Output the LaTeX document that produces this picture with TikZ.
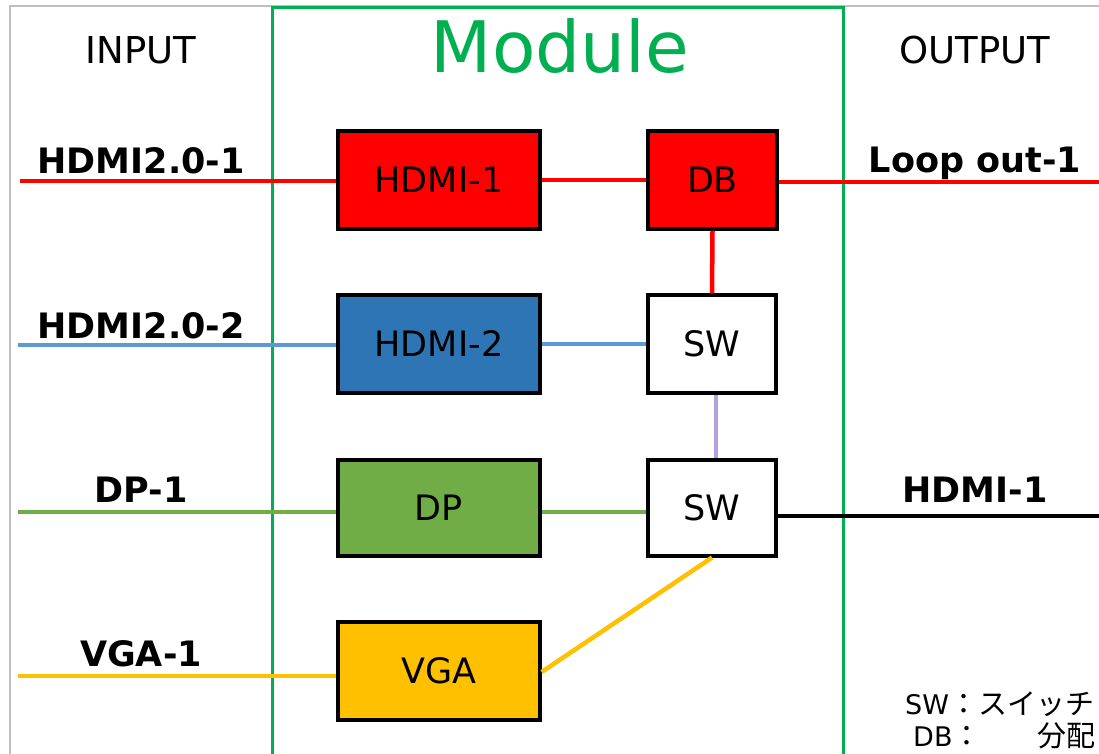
\documentclass[tikz,border=0pt]{standalone}
\usepackage{fontspec}
\setmainfont{DejaVu Sans}
\newfontfamily\cjk{Noto Sans CJK JP}
\definecolor{cgreen}{HTML}{00B050}
\definecolor{cframe}{HTML}{BFBFBF}
\definecolor{cred}{HTML}{FF0000}
\definecolor{cblue}{HTML}{2E75B6}
\definecolor{lblue}{HTML}{5B9BD5}
\definecolor{cdp}{HTML}{70AD47}
\definecolor{cyel}{HTML}{FFC000}
\definecolor{cpur}{HTML}{B4A0DC}
\tikzset{
  blk/.style={draw=black, line width=3.2pt, minimum width=202pt, minimum height=98pt, inner sep=0pt, font=\fontsize{35}{40}\selectfont},
  sblk/.style={blk, minimum width=128pt},
  lab/.style={anchor=base, font=\fontsize{35}{40}\selectfont\bfseries, inner sep=0pt},
  head/.style={anchor=base, font=\fontsize{37}{42}\selectfont, inner sep=0pt},
  wire/.style={line width=4.5pt}
}
\begin{document}
\begin{tikzpicture}[x=1pt,y=-1pt]
\useasboundingbox (0,0) rectangle (1099,753);
\fill[white] (0,0) rectangle (1099,753);
\clip (0,0) rectangle (1099,753);
% frames
\draw[cframe, line width=2pt] (10,6) rectangle (1130,790);
\draw[cgreen, line width=3pt] (272,7) rectangle (843,800);
% headings
\node[head] (tin) at (141,63) {INPUT};
\node[head] (tout) at (975,63) {OUTPUT};
\node[anchor=base, inner sep=0pt, text=cgreen, font=\fontsize{71}{80}\selectfont] (tmod) at (560,72) {Module};
% labels
\node[lab] (l1) at (141,173) {HDMI2.0-1};
\node[lab] (l2) at (141,338) {HDMI2.0-2};
\node[lab] (l3) at (141,502) {DP-1};
\node[lab] (l4) at (141,666) {VGA-1};
\node[lab] (l5) at (975,172) {Loop out-1};
\node[lab] (l6) at (975,502) {HDMI-1};
% blocks
\node[blk, fill=cred] (h1) at (439,180) {HDMI-1};
\node[sblk, fill=cred, minimum width=129pt] (db) at (712.5,180) {DB};
\node[blk, fill=cblue] (h2) at (439,344) {HDMI-2};
\node[sblk, fill=white] (sw1) at (712,344) {SW};
\node[blk, fill=cdp, minimum height=96pt] (dp) at (439,508) {DP};
\node[sblk, fill=white, minimum height=96pt] (sw2) at (712,508) {SW};
\node[blk, fill=cyel] (vga) at (439,671) {VGA};
% end points
\coordinate (in1) at (20,181);
\coordinate (in2) at (18,345);
\coordinate (in3) at (18,512);
\coordinate (in4) at (18,676);
\coordinate (out1) at (1099,182);
\coordinate (out2) at (1099,516);
% wires
\draw[wire, cred] (in1) -- (in1 -| h1.west);
\draw[wire, cred] (h1.east) -- (db.west);
\draw[wire, cred] (out1 -| db.east) -- (out1);
\draw[wire, cred] (db.south) -- (sw1.north);
\draw[wire, lblue] (in2) -- (in2 -| h2.west);
\draw[wire, lblue] (h2.east) -- (sw1.west);
\draw[wire, cpur] ([xshift=4pt]sw1.south) -- ([xshift=4pt]sw2.north);
\draw[wire, cdp] (in3) -- (in3 -| dp.west);
\draw[wire, cdp] ([yshift=-4pt]dp.east) -- ([yshift=-4pt]sw2.west);
\draw[wire, black] (out2 -| sw2.east) -- (out2);
\draw[wire, cyel] (in4) -- (in4 -| vga.west);
\draw[wire, cyel] ([yshift=-1pt]vga.east) -- (sw2.south);
% legend
\node[anchor=base west, inner sep=0pt, font=\fontsize{27}{30}\selectfont] (lg1) at (905,714) {SW{\cjk\fontsize{29}{32}\selectfont ：スイッチ}};
\node[anchor=base west, inner sep=0pt, font=\fontsize{27}{30}\selectfont] (lg2) at (913,746) {DB{\cjk\fontsize{29}{32}\selectfont ：\hspace{56pt}分配}};
\end{tikzpicture}
\end{document}
